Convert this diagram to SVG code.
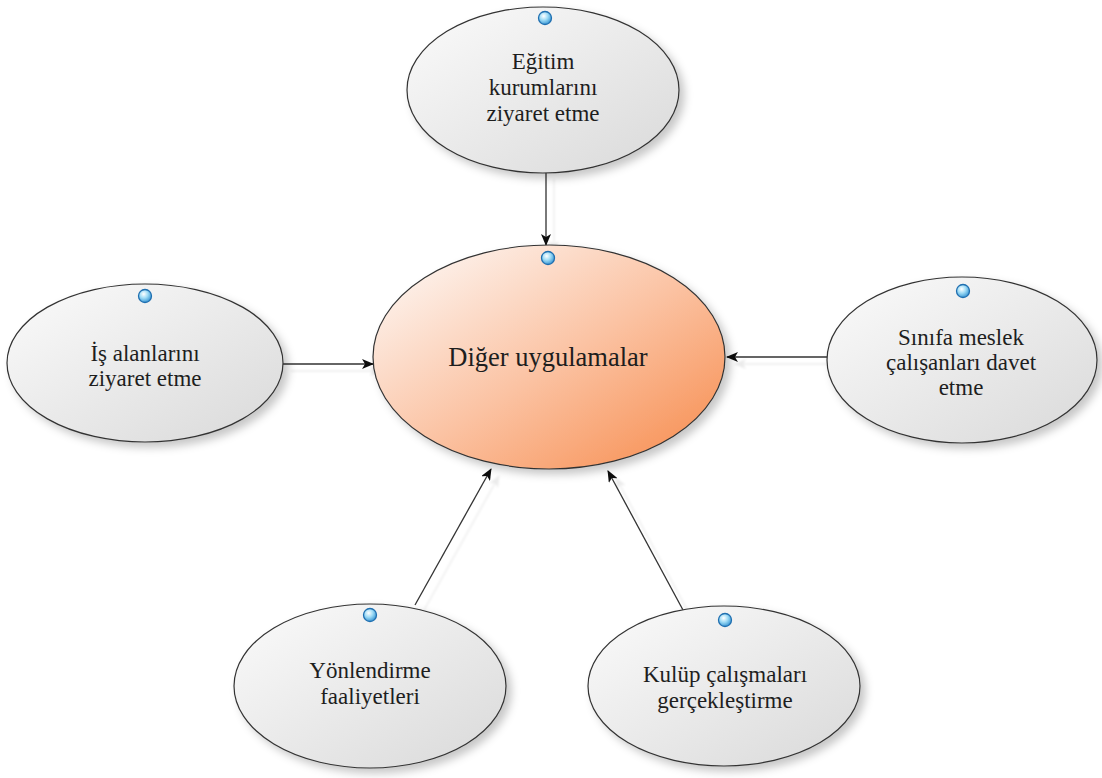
<svg xmlns="http://www.w3.org/2000/svg" width="1102" height="778" viewBox="0 0 1102 778">
  <defs>
    <linearGradient id="gGray" x1="0" y1="0" x2="1" y2="1">
      <stop offset="0" stop-color="#fbfbfb"/>
      <stop offset="1" stop-color="#d9d9d9"/>
    </linearGradient>
    <linearGradient id="gOrange" x1="0.1" y1="0.1" x2="0.95" y2="0.95">
      <stop offset="0" stop-color="#fdf2ec"/>
      <stop offset="0.5" stop-color="#fbc2a2"/>
      <stop offset="1" stop-color="#f78f52"/>
    </linearGradient>
    <radialGradient id="gDot" cx="0.4" cy="0.35" r="0.7">
      <stop offset="0" stop-color="#ffffff"/>
      <stop offset="0.45" stop-color="#9fdcf6"/>
      <stop offset="1" stop-color="#2f8fd0"/>
    </radialGradient>
    <filter id="shadow" x="-20%" y="-20%" width="150%" height="150%">
      <feDropShadow dx="5" dy="5" stdDeviation="4" flood-color="#000" flood-opacity="0.22"/>
    </filter>
    <filter id="lineShadow" x="-20%" y="-20%" width="150%" height="150%">
      <feDropShadow dx="8" dy="7" stdDeviation="1.2" flood-color="#000" flood-opacity="0.08"/>
    </filter>
    <marker id="arrow" viewBox="0 0 12 10" refX="11" refY="5" markerWidth="12" markerHeight="10" markerUnits="userSpaceOnUse" orient="auto">
      <path d="M0,0 L12,5 L0,10 L3,5 Z" fill="#111"/>
    </marker>
  </defs>
  <style>
    .node { stroke: #333; stroke-width: 1.2; filter: url(#shadow); }
    .side { fill: url(#gGray); }
    .main { fill: url(#gOrange); }
    .lbl { font-family: "Liberation Serif", "Times New Roman", serif; font-size: 23px; fill: #1e1e1e; text-anchor: middle; }
    .mainlbl { font-family: "Liberation Serif", "Times New Roman", serif; font-size: 26.5px; fill: #1e1e1e; text-anchor: middle; }
    .dot { fill: url(#gDot); stroke: #1f6fb0; stroke-width: 1.3; }
    .conn { stroke: #333; stroke-width: 1.3; fill: none; marker-end: url(#arrow); }
  </style>

  <rect width="1102" height="778" fill="#ffffff"/>

  <!-- connectors -->
  <g id="connectors" filter="url(#lineShadow)">
    <line class="conn" x1="546" y1="172" x2="546" y2="245"/>
    <line class="conn" x1="283" y1="364" x2="373" y2="364"/>
    <line class="conn" x1="827" y1="357" x2="727" y2="357"/>
    <line class="conn" x1="415" y1="605" x2="491" y2="469"/>
    <line class="conn" x1="683" y1="610" x2="608" y2="471"/>
  </g>

  <!-- central node -->
  <g id="node-diger">
    <ellipse class="node main" cx="549" cy="357" rx="176" ry="112"/>
    <circle class="dot" cx="548" cy="258" r="6.5"/>
    <text class="mainlbl" x="548" y="366">Diğer uygulamalar</text>
  </g>

  <g id="node-egitim">
    <ellipse class="node side" cx="543" cy="90" rx="136" ry="83"/>
    <circle class="dot" cx="545" cy="18" r="6.5"/>
    <text class="lbl" x="543" y="69">Eğitim</text>
    <text class="lbl" x="543" y="95">kurumlarını</text>
    <text class="lbl" x="543" y="121">ziyaret etme</text>
  </g>

  <g id="node-is">
    <ellipse class="node side" cx="145" cy="363" rx="138" ry="79"/>
    <circle class="dot" cx="145" cy="296" r="6.5"/>
    <text class="lbl" x="145" y="361">İş alanlarını</text>
    <text class="lbl" x="145" y="386">ziyaret etme</text>
  </g>

  <g id="node-sinifa">
    <ellipse class="node side" cx="962" cy="360" rx="135" ry="83"/>
    <circle class="dot" cx="963" cy="291" r="6.5"/>
    <text class="lbl" x="961" y="345">Sınıfa meslek</text>
    <text class="lbl" x="961" y="370">çalışanları davet</text>
    <text class="lbl" x="961" y="395">etme</text>
  </g>

  <g id="node-yonlendirme">
    <ellipse class="node side" cx="370" cy="686" rx="136" ry="82"/>
    <circle class="dot" cx="370" cy="615" r="6.5"/>
    <text class="lbl" x="370" y="678">Yönlendirme</text>
    <text class="lbl" x="370" y="704">faaliyetleri</text>
  </g>

  <g id="node-kulup">
    <ellipse class="node side" cx="724" cy="686" rx="136" ry="80"/>
    <circle class="dot" cx="725" cy="620" r="6.5"/>
    <text class="lbl" x="725" y="682">Kulüp çalışmaları</text>
    <text class="lbl" x="725" y="708">gerçekleştirme</text>
  </g>
</svg>
